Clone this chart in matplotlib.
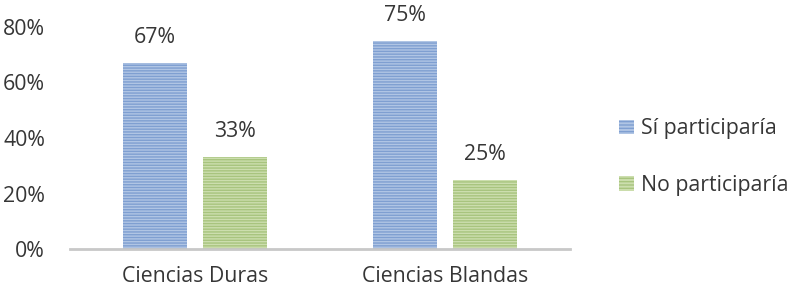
import matplotlib
matplotlib.use("Agg")
import matplotlib.pyplot as plt
from matplotlib.patches import Patch
import numpy as np

plt.rcParams['font.family'] = ['Open Sans', 'DejaVu Sans']
plt.rcParams['hatch.linewidth'] = 1.0

categories = ["Ciencias Duras", "Ciencias Blandas"]
series_names = ["Sí participaría", "No participaría"]
si = [0.67, 0.75]
no = [0.33, 0.25]
yticks = [0, 0.2, 0.4, 0.6, 0.8]
ytick_labels = ["0%", "20%", "40%", "60%", "80%"]

text_color = "#363636"
face = ["#b0c5e4", "#ccdeae"]
hatchc = ["#7f9fd1", "#a8c47e"]
FS = 15.3

fig = plt.figure(figsize=(7.98, 3.0), dpi=100)
ax = fig.add_axes([70/798, 51/300, 500/798, 222/300])

x = np.arange(len(categories))
w = 0.256
off = 0.16
for vals, sign, fc, hc in [(si, -1, face[0], hatchc[0]), (no, 1, face[1], hatchc[1])]:
    bars = ax.bar(x + sign*off, vals, width=w, facecolor=fc, edgecolor=hc,
                  hatch='------', linewidth=0)
    for b, v in zip(bars, vals):
        ax.text(b.get_x() + b.get_width()/2, v + 0.092, f"{round(v*100)}%",
                ha='center', va='center', fontsize=FS, color=text_color)

ax.set_xlim(-0.5, 1.5)
ax.set_ylim(0, 0.8)
ax.set_yticks(yticks)
ax.set_yticklabels(ytick_labels)
ax.set_xticks(x)
ax.set_xticklabels(categories)
ax.tick_params(axis='both', length=0, labelsize=FS, labelcolor=text_color)
ax.tick_params(axis='y', pad=18)
ax.tick_params(axis='x', pad=12)
for s in ['top', 'right', 'left']:
    ax.spines[s].set_visible(False)
ax.spines['bottom'].set_color('#c8c8c8')
ax.spines['bottom'].set_linewidth(2)

handles = [Patch(facecolor=face[i], edgecolor=hatchc[i], hatch='-----', linewidth=0, label=series_names[i]) for i in range(2)]
fig.legend(handles=handles, loc='center left', bbox_to_anchor=(600/798, 1-157/300),
           frameon=False, prop={'size': FS}, labelcolor=text_color,
           handlelength=0.7, handleheight=0.7, handletextpad=0.35, labelspacing=1.65)

fig.savefig("out.png", dpi=100)
